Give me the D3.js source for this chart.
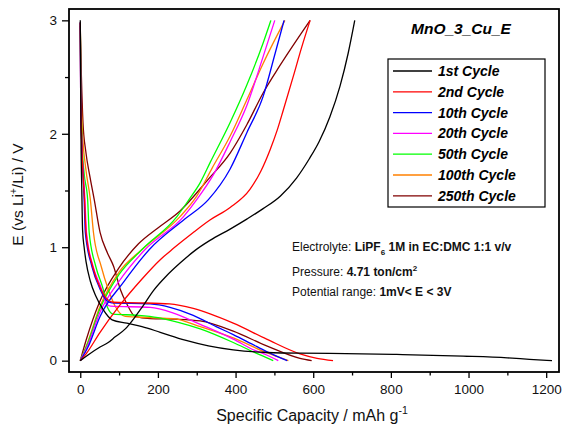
<!DOCTYPE html>
<html>
<head>
<meta charset="utf-8">
<script src="https://cdn.jsdelivr.net/npm/d3@7"></script>
<style>
  html, body { margin: 0; padding: 0; background: #fff; }
  svg { display: block; font-family: "Liberation Sans", Arial, sans-serif; }
</style>
</head>
<body>
<svg id="chart" width="563" height="430"></svg>
<script>
// Galvanostatic cycling of MnO_3_Cu_E: potential E (V) vs specific capacity (mAh/g)
const cycleNames = ["1st Cycle", "2nd Cycle", "10th Cycle", "20th Cycle", "50th Cycle", "100th Cycle", "250th Cycle"];
const cycleColors = ["#000000", "#ff0000", "#0000ff", "#ff00ff", "#00ff00", "#ff8000", "#800000"];

const xTicks = [0, 200, 400, 600, 800, 1000, 1200];
const yTicks = [0, 1, 2, 3];

// discharge branches [capacity, E]
const dis1 = [[0,3.0],[1,2.5],[2,1.95],[4,1.5],[6,1.15],[10,1.0],[15,0.87],[26,0.7],[40,0.57],[59,0.45],[82,0.36],[120,0.33],[159,0.30],[206,0.25],[270,0.18],[330,0.13],[394,0.095],[480,0.072],[566,0.066],[643,0.065],[815,0.055],[986,0.04],[1100,0.025],[1157,0.012],[1215,0.0]];
const dis2 = [[0,2.98],[1,2.4],[4,1.9],[7,1.65],[11,1.42],[15,1.13],[32,0.83],[53,0.63],[70,0.54],[85,0.515],[150,0.51],[230,0.5],[291,0.46],[394,0.33],[480,0.19],[566,0.06],[610,0.02],[651,0.0]];
const dis10 = [[0,2.98],[1,2.4],[4,1.9],[7,1.65],[10,1.42],[13,1.13],[30,0.83],[51,0.63],[68,0.53],[81,0.51],[180,0.5],[231,0.47],[291,0.4],[350,0.3],[394,0.23],[440,0.15],[480,0.08],[533,0.0]];
const dis20 = [[0,2.98],[1,2.4],[4,1.9],[8,1.65],[12,1.42],[16,1.13],[33,0.83],[55,0.63],[66,0.51],[78,0.48],[180,0.47],[240,0.42],[309,0.32],[394,0.19],[450,0.09],[480,0.05],[510,0.0]];
const dis50 = [[0,2.98],[2,2.3],[5,1.9],[10,1.65],[19,1.42],[23,1.13],[40,0.83],[59,0.63],[70,0.47],[85,0.41],[150,0.4],[200,0.38],[250,0.34],[309,0.28],[394,0.16],[450,0.07],[497,0.0]];
const dis100 = [[0,2.97],[2,2.4],[6,2.0],[14,1.7],[26,1.42],[34,1.13],[54,0.83],[72,0.63],[90,0.48],[116,0.39],[180,0.38],[240,0.37],[309,0.3],[394,0.2],[480,0.07],[536,0.0]];
const dis250 = [[0,2.95],[3,2.5],[7,2.1],[14,1.85],[25,1.62],[36,1.42],[51,1.13],[70,0.95],[86,0.83],[103,0.63],[120,0.5],[141,0.39],[180,0.37],[250,0.365],[309,0.35],[394,0.26],[480,0.13],[566,0.02],[596,0.0]];

// charge branches [capacity, E]
const chg1 = [[0,0.0],[20,0.05],[51,0.12],[72,0.16],[90,0.21],[116,0.28],[140,0.38],[159,0.47],[189,0.62],[220,0.74],[257,0.86],[295,0.97],[334,1.06],[386,1.16],[430,1.25],[471,1.34],[515,1.45],[557,1.61],[590,1.78],[615,1.93],[643,2.15],[669,2.42],[690,2.71],[707,3.0]];
const chg2 = [[0,0.0],[15,0.06],[51,0.25],[100,0.48],[159,0.72],[206,0.89],[240,0.99],[291,1.13],[334,1.24],[386,1.35],[437,1.51],[465,1.67],[489,1.86],[507,2.03],[523,2.21],[549,2.51],[570,2.76],[592,3.0]];
const chg10 = [[0,0.0],[20,0.12],[51,0.39],[111,0.69],[178,0.98],[270,1.25],[330,1.42],[386,1.69],[429,2.01],[471,2.33],[502,2.71],[525,3.0]];
const chg20 = [[0,0.0],[20,0.14],[50,0.42],[100,0.7],[167,0.98],[266,1.27],[300,1.42],[343,1.64],[386,1.93],[429,2.25],[471,2.68],[501,3.0]];
const chg50 = [[0,0.0],[20,0.16],[50,0.45],[100,0.76],[159,0.98],[249,1.27],[280,1.42],[309,1.57],[335,1.75],[386,2.1],[429,2.43],[471,2.8],[491,3.0]];
const chg100 = [[0,0.0],[20,0.17],[50,0.47],[100,0.78],[159,0.98],[257,1.27],[300,1.45],[340,1.7],[386,1.98],[429,2.3],[471,2.62],[527,3.0]];
const chg250 = [[0,0.0],[15,0.18],[50,0.52],[100,0.82],[150,1.03],[200,1.17],[257,1.32],[330,1.6],[386,1.83],[429,2.08],[471,2.36],[514,2.6],[592,3.0]];

const discharges = [dis1, dis2, dis10, dis20, dis50, dis100, dis250];
const charges = [chg1, chg2, chg10, chg20, chg50, chg100, chg250];

const svg = d3.select("#chart");
const box = { left: 69, top: 9, right: 559, bottom: 372 };

const x = d3.scaleLinear().domain([-29, 1233]).range([box.left, box.right]);
const y = d3.scaleLinear().domain([-0.1, 3.1]).range([box.bottom, box.top]);

const line = d3.line()
  .x(d => x(d[0]))
  .y(d => y(d[1]))
  .curve(d3.curveMonotoneX);

// curves
const plot = svg.append("g");
for (let i = discharges.length - 1; i >= 0; i--) {
  [discharges[i], charges[i]].forEach(branch => {
    plot.append("path")
      .attr("d", line(branch))
      .attr("fill", "none")
      .attr("stroke", cycleColors[i])
      .attr("stroke-width", 1.3);
  });
}

// axes
const xMinor = d3.range(100, 1300, 200);
const yMinor = [0.5, 1.5, 2.5];

svg.append("g")
  .attr("transform", `translate(0,${box.bottom})`)
  .call(d3.axisBottom(x).tickValues(xTicks).tickFormat(d3.format("d")).tickSize(6).tickPadding(6));
svg.append("g")
  .attr("transform", `translate(0,${box.bottom})`)
  .call(d3.axisBottom(x).tickValues(xMinor).tickFormat("").tickSize(3.5));

svg.append("g")
  .attr("transform", `translate(${box.left},0)`)
  .call(d3.axisLeft(y).tickValues(yTicks).tickFormat(d3.format("d")).tickSize(7).tickPadding(5));
svg.append("g")
  .attr("transform", `translate(${box.left},0)`)
  .call(d3.axisLeft(y).tickValues(yMinor).tickFormat("").tickSize(4));

svg.selectAll(".domain").remove();
svg.selectAll(".tick line").attr("stroke", "#000").attr("stroke-width", 1.3);
svg.selectAll(".tick text").attr("fill", "#111").attr("font-size", 13.5);

// frame
svg.append("rect")
  .attr("x", box.left).attr("y", box.top)
  .attr("width", box.right - box.left).attr("height", box.bottom - box.top)
  .attr("fill", "none").attr("stroke", "#000").attr("stroke-width", 1.8);

// axis titles
const xt = svg.append("text")
  .attr("x", 312).attr("y", 421)
  .attr("text-anchor", "middle").attr("font-size", 16).attr("fill", "#111");
xt.append("tspan").text("Specific Capacity / mAh g");
xt.append("tspan").attr("dy", -7).attr("font-size", 10.5).text("-1");

const yt = svg.append("text")
  .attr("transform", `translate(23,${(box.top + box.bottom) / 2 + 4}) rotate(-90)`)
  .attr("text-anchor", "middle").attr("font-size", 15.5).attr("fill", "#111");
yt.append("tspan").text("E (vs Li");
yt.append("tspan").attr("dy", -6).attr("font-size", 10).text("+");
yt.append("tspan").attr("dy", 6).text("/Li) / V");

// sample name
svg.append("text")
  .attr("x", 461).attr("y", 34)
  .attr("text-anchor", "middle")
  .attr("font-size", 15.5).attr("font-weight", "bold").attr("font-style", "italic")
  .text("MnO_3_Cu_E");

// legend
const leg = svg.append("g");
leg.append("rect")
  .attr("x", 388).attr("y", 59).attr("width", 157).attr("height", 148)
  .attr("fill", "#fff").attr("stroke", "#000").attr("stroke-width", 1.2);
cycleNames.forEach((name, i) => {
  const cy = 71 + i * 20.8;
  leg.append("line")
    .attr("x1", 393).attr("x2", 432).attr("y1", cy).attr("y2", cy)
    .attr("stroke", cycleColors[i]).attr("stroke-width", 1.3);
  leg.append("text")
    .attr("x", 438).attr("y", cy + 5)
    .attr("font-size", 14).attr("font-weight", "bold").attr("font-style", "italic")
    .text(name);
});

// test conditions
const notes = svg.append("g").attr("font-size", 12).attr("fill", "#111");
const n1 = notes.append("text").attr("x", 292).attr("y", 251);
n1.append("tspan").text("Electrolyte: ");
n1.append("tspan").attr("font-weight", "bold").text("LiPF");
n1.append("tspan").attr("font-weight", "bold").attr("dy", 4).attr("font-size", 8).text("6");
n1.append("tspan").attr("font-weight", "bold").attr("dy", -4).text(" 1M in EC:DMC 1:1 v/v");

const n2 = notes.append("text").attr("x", 292).attr("y", 276);
n2.append("tspan").text("Pressure: ");
n2.append("tspan").attr("font-weight", "bold").text("4.71 ton/cm");
n2.append("tspan").attr("font-weight", "bold").attr("dy", -5).attr("font-size", 8).text("2");

const n3 = notes.append("text").attr("x", 292).attr("y", 296);
n3.append("tspan").text("Potential range: ");
n3.append("tspan").attr("font-weight", "bold").text("1mV< E < 3V");
</script>
</body>
</html>
